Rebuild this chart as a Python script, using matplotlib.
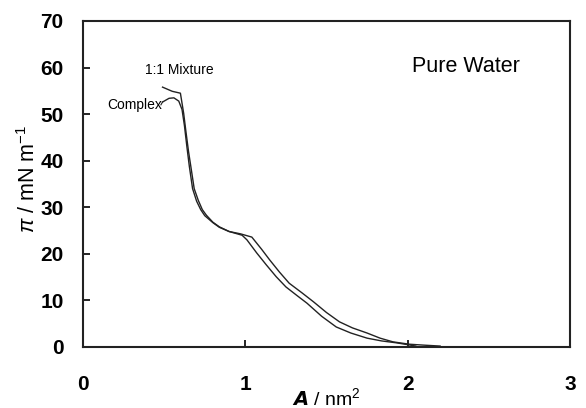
import matplotlib
matplotlib.use("Agg")
import matplotlib.pyplot as plt

plt.rcParams['font.family'] = ['Liberation Sans', 'DejaVu Sans']
plt.rcParams['mathtext.fontset'] = 'custom'
plt.rcParams['mathtext.rm'] = 'Liberation Sans'
plt.rcParams['mathtext.it'] = 'Liberation Sans:italic'
plt.rcParams['mathtext.bf'] = 'Liberation Sans:bold'

# Data
mix_A = [0.49, 0.55, 0.60, 0.62, 0.635, 0.65, 0.665, 0.685, 0.71, 0.735, 0.76, 0.80, 0.84, 0.90,
         0.97, 1.04, 1.10, 1.15, 1.21, 1.27, 1.35, 1.42, 1.50, 1.58, 1.66, 1.75, 1.83, 1.91,
         2.01, 2.10, 2.20]
mix_pi = [55.8, 54.9, 54.5, 50.2, 46.0, 42.0, 38.6, 34.0, 31.5, 29.5, 28.3, 26.8, 25.8, 24.8,
          24.3, 23.6, 21.0, 18.7, 16.1, 13.7, 11.6, 9.7, 7.4, 5.4, 4.1, 3.0, 1.9, 1.1,
          0.6, 0.4, 0.2]
cpx_A = [0.49, 0.53, 0.56, 0.59, 0.61, 0.625, 0.64, 0.655, 0.675, 0.70, 0.725, 0.75, 0.80, 0.84,
         0.90, 0.98, 1.01, 1.07, 1.13, 1.19, 1.25, 1.32, 1.38, 1.47, 1.56, 1.65, 1.75, 1.84,
         1.93, 2.00, 2.05]
cpx_pi = [52.6, 53.4, 53.5, 52.8, 51.0, 47.5, 43.0, 38.8, 34.0, 31.3, 29.5, 28.2, 26.7, 25.7,
          24.8, 24.0, 23.0, 20.2, 17.6, 15.1, 12.9, 11.0, 9.4, 6.6, 4.3, 3.0, 1.9, 1.3,
          0.9, 0.5, 0.2]

x_ticks = [0, 1, 2, 3]
y_ticks = [0, 10, 20, 30, 40, 50, 60, 70]

fig = plt.figure(figsize=(5.86, 4.08), dpi=100)
ax = fig.add_axes([83/586, 1-347/408, (570-83)/586, (347-21)/408])

ax.plot(mix_A, mix_pi, color='#222222', lw=1.0)
ax.plot(cpx_A, cpx_pi, color='#222222', lw=1.0)

ax.set_xlim(0, 3)
ax.set_ylim(0, 70)
ax.set_xticks(x_ticks)
ax.set_yticks(y_ticks)
ax.tick_params(axis='both', direction='in', length=5, width=1.2, labelsize=15)
ax.tick_params(axis='x', pad=20)
ax.tick_params(axis='y', pad=14)
for lab in ax.get_xticklabels() + ax.get_yticklabels():
    lab.set_fontweight('bold')
for s in ax.spines.values():
    s.set_linewidth(1.5)
    s.set_color('#222222')

ax.set_xlabel(r'$\mathbfit{A}$ / nm$^2$', fontsize=14)
ax.xaxis.set_label_coords(0.5, -0.178)
ax.xaxis.label.set_va('baseline')
ax.set_ylabel(r'$\pi$ / mN m$^{-1}$', fontsize=15.5)
ax.yaxis.set_label_coords(-0.088, 0.515)

ax.text(0.38, 59.5, '1:1 Mixture', fontsize=10, ha='left', va='center')
ax.text(0.148, 52.0, 'Complex', fontsize=10, ha='left', va='center')
ax.plot([0.48, 0.49], [52.0, 52.6], color='#222222', lw=0.8)
ax.text(2.027, 60.3, 'Pure Water', fontsize=15.5, ha='left', va='center')

fig.savefig('out.png', dpi=100)
